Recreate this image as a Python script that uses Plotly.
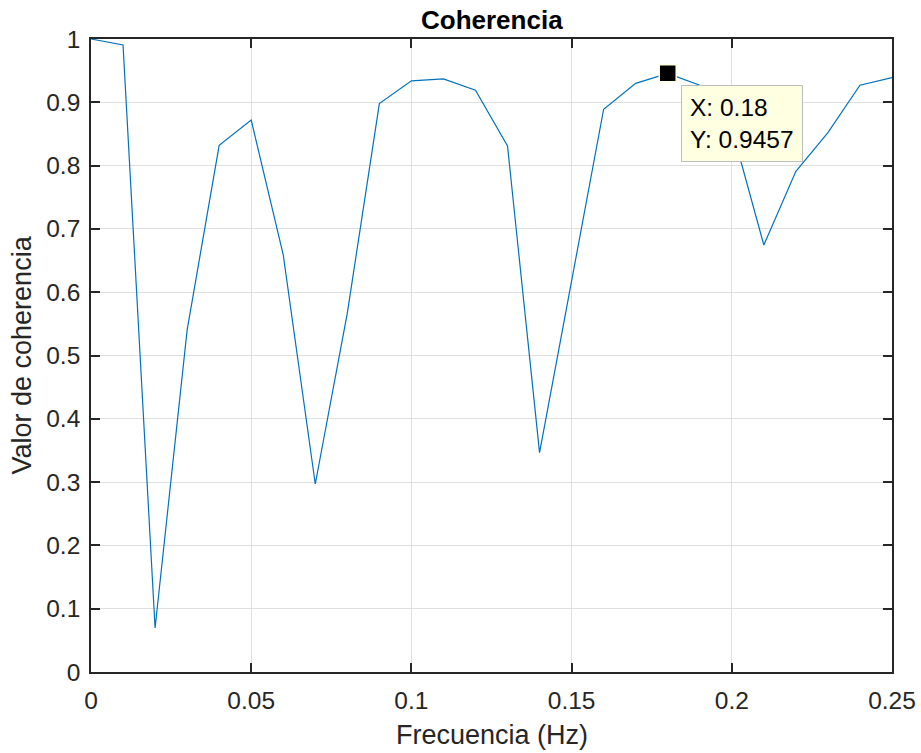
import plotly.graph_objects as go

freq = [0.00, 0.01, 0.02, 0.03, 0.04, 0.05, 0.06, 0.07, 0.08, 0.09, 0.10, 0.11, 0.12,
        0.13, 0.14, 0.15, 0.16, 0.17, 0.18, 0.19, 0.20, 0.21, 0.22, 0.23, 0.24, 0.25]
coh = [1.000, 0.9905, 0.0695, 0.540, 0.832, 0.872, 0.659, 0.297, 0.567, 0.898, 0.934,
       0.937, 0.919, 0.831, 0.3465, 0.618, 0.889, 0.930, 0.9457, 0.927, 0.859, 0.6746,
       0.791, 0.852, 0.927, 0.939]
tip_x = 0.18
tip_y = 0.9457
xticks = [0, 0.05, 0.1, 0.15, 0.2, 0.25]
xtick_labels = ["0", "0.05", "0.1", "0.15", "0.2", "0.25"]
yticks = [0, 0.1, 0.2, 0.3, 0.4, 0.5, 0.6, 0.7, 0.8, 0.9, 1]
ytick_labels = ["0", "0.1", "0.2", "0.3", "0.4", "0.5", "0.6", "0.7", "0.8", "0.9", "1"]

FONT = "Liberation Sans, Arial, sans-serif"
AX = "#262626"
GRID = "rgb(223,223,223)"

fig = go.Figure()
fig.add_trace(go.Scatter(x=freq, y=coh, mode="lines",
                         line=dict(color="#0072BD", width=1.2),
                         hoverinfo="skip", showlegend=False))
fig.add_trace(go.Scatter(x=[tip_x], y=[tip_y], mode="markers",
                         marker=dict(symbol="square", size=17, color="black",
                                     line=dict(color="#FFFFE1", width=1.5)),
                         hoverinfo="skip", showlegend=False))

fig.add_annotation(x=tip_x, y=tip_y, xref="x", yref="y",
                   text="X: 0.18<br>Y: 0.9457", showarrow=False,
                   xanchor="left", yanchor="top", xshift=13, yshift=-12,
                   align="left", bgcolor="#FFFFE1", bordercolor="#BDBDBD",
                   borderwidth=1, borderpad=8,
                   font=dict(family=FONT, size=24.5, color="black"))

axis_common = dict(showline=True, linecolor=AX, linewidth=1.6, mirror="allticks",
                   ticks="inside", ticklen=9, tickwidth=1.6, tickcolor=AX,
                   showgrid=True, gridcolor=GRID, gridwidth=1, zeroline=False,
                   automargin=False,
                   tickfont=dict(family=FONT, size=24.5, color=AX))

fig.update_xaxes(range=[0, 0.25], tickvals=xticks, ticktext=xtick_labels,
                 ticklabelstandoff=6, **axis_common)
fig.update_yaxes(range=[0, 1], tickvals=yticks, ticktext=ytick_labels,
                 ticklabelstandoff=4, **axis_common)

fig.add_annotation(text="Frecuencia (Hz)", xref="paper", yref="paper", x=0.5, y=0,
                   xanchor="center", yanchor="middle", yshift=-63, showarrow=False,
                   font=dict(family=FONT, size=27, color=AX))
fig.add_annotation(text="Valor de coherencia", xref="paper", yref="paper", x=0, y=0.5,
                   xanchor="center", yanchor="middle", xshift=-70, textangle=-90,
                   showarrow=False, font=dict(family=FONT, size=27, color=AX))
fig.add_annotation(text="<b>Coherencia</b>", xref="paper", yref="paper", x=0.5, y=1,
                   xanchor="center", yanchor="middle", yshift=19, showarrow=False,
                   font=dict(family=FONT, size=26, color="black"))

fig.update_layout(width=921, height=753, margin=dict(l=91, r=29, t=39, b=81),
                  paper_bgcolor="white", plot_bgcolor="white")

fig.write_html("out.html")
